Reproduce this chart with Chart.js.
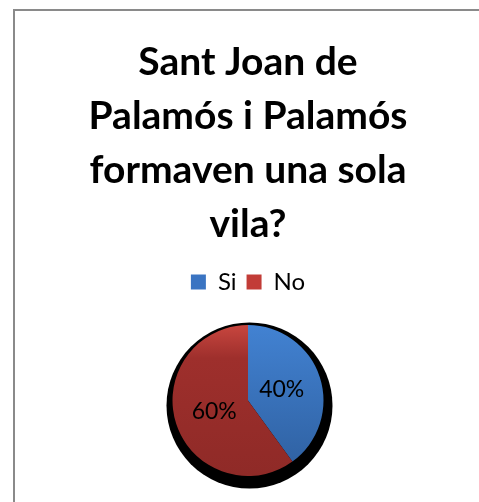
<!DOCTYPE html>
<html>
<head>
<meta charset="utf-8">
<script src="https://cdn.jsdelivr.net/npm/chart.js@4/dist/chart.umd.min.js"></script>
<style>
  html, body { margin: 0; padding: 0; background: #fff; overflow: hidden; }
  #wrap { position: relative; width: 479px; height: 502px; }
  #frame { position: absolute; left: 13px; top: 9px; width: 600px; height: 600px;
           border-left: 2px solid #8a8a8a; border-top: 2px solid #8a8a8a; box-sizing: border-box; }
  canvas { position: absolute; left: 0; top: 0; }
</style>
</head>
<body>
<div id="wrap">
  <div id="frame"></div>
  <canvas id="c" width="479" height="502"></canvas>
</div>
<script>
const titleLines = ['Sant Joan de', 'Palamós i Palamós', 'formaven una sola', 'vila?'];
const categories = ['Si', 'No'];
const values = [40, 60];
const legendColors = ['#3a74c2', '#c23c37'];

const gradStops = [
  [[0, '#4282d2'], [1, '#2e5f9f']],
  [[0, '#c8463f'], [0.22, '#9e2f2c'], [1, '#8f2a27']]
];

function sliceFill(ctx) {
  const chart = ctx.chart;
  const area = chart.chartArea;
  const i = ctx.dataIndex;
  if (!area) return legendColors[i];
  const g = chart.ctx.createLinearGradient(0, area.top, 0, area.bottom);
  gradStops[i].forEach(s => g.addColorStop(s[0], s[1]));
  return g;
}

const shadowPlugin = {
  id: 'shadow',
  beforeDatasetsDraw(chart) {
    const arc = chart.getDatasetMeta(0).data[0];
    if (!arc) return;
    const c = chart.ctx;
    c.save();
    c.fillStyle = '#000';
    c.beginPath();
    c.arc(arc.x + 1.5, arc.y + 5, arc.outerRadius + 7.5, 0, Math.PI * 2);
    c.fill();
    c.restore();
  }
};

const labelPlugin = {
  id: 'pctLabels',
  afterDatasetsDraw(chart) {
    const meta = chart.getDatasetMeta(0);
    const total = values.reduce((a, b) => a + b, 0);
    const c = chart.ctx;
    c.save();
    c.font = '23px Lato';
    c.fillStyle = '#000';
    c.textAlign = 'center';
    c.textBaseline = 'middle';
    meta.data.forEach((arc, i) => {
      const mid = (arc.startAngle + arc.endAngle) / 2;
      const r = arc.outerRadius * 0.47;
      const x = arc.x + Math.cos(mid) * r;
      const y = arc.y + Math.sin(mid) * r;
      c.fillText(Math.round(values[i] / total * 100) + '%', x, y);
    });
    c.restore();
  }
};

const spacerPlugin = {
  id: 'legendSpacer',
  beforeInit(chart) {
    const orig = chart.legend.fit;
    chart.legend.fit = function () {
      orig.call(this);
      this.height += 21;
    };
  }
};

new Chart(document.getElementById('c'), {
  type: 'pie',
  data: {
    labels: categories,
    datasets: [{
      data: values,
      backgroundColor: sliceFill,
      borderWidth: 0
    }]
  },
  options: {
    responsive: false,
    animation: false,
    layout: { padding: { left: 17, right: 0, top: 0, bottom: 26 } },
    plugins: {
      tooltip: { enabled: false },
      title: {
        display: true,
        text: titleLines,
        color: '#000',
        font: { family: 'Lato', size: 39, weight: 'bold', lineHeight: '54px' },
        padding: { top: 35, bottom: 9 }
      },
      legend: {
        display: true,
        position: 'top',
        labels: {
          color: '#000',
          font: { family: 'Lato', size: 24 },
          boxWidth: 15,
          boxHeight: 15,
          padding: 10,
          generateLabels(chart) {
            return categories.map((t, i) => ({
              text: t,
              fillStyle: legendColors[i],
              strokeStyle: legendColors[i],
              lineWidth: 0,
              hidden: false,
              index: i
            }));
          }
        }
      }
    }
  },
  plugins: [spacerPlugin, shadowPlugin, labelPlugin]
});
</script>
</body>
</html>
